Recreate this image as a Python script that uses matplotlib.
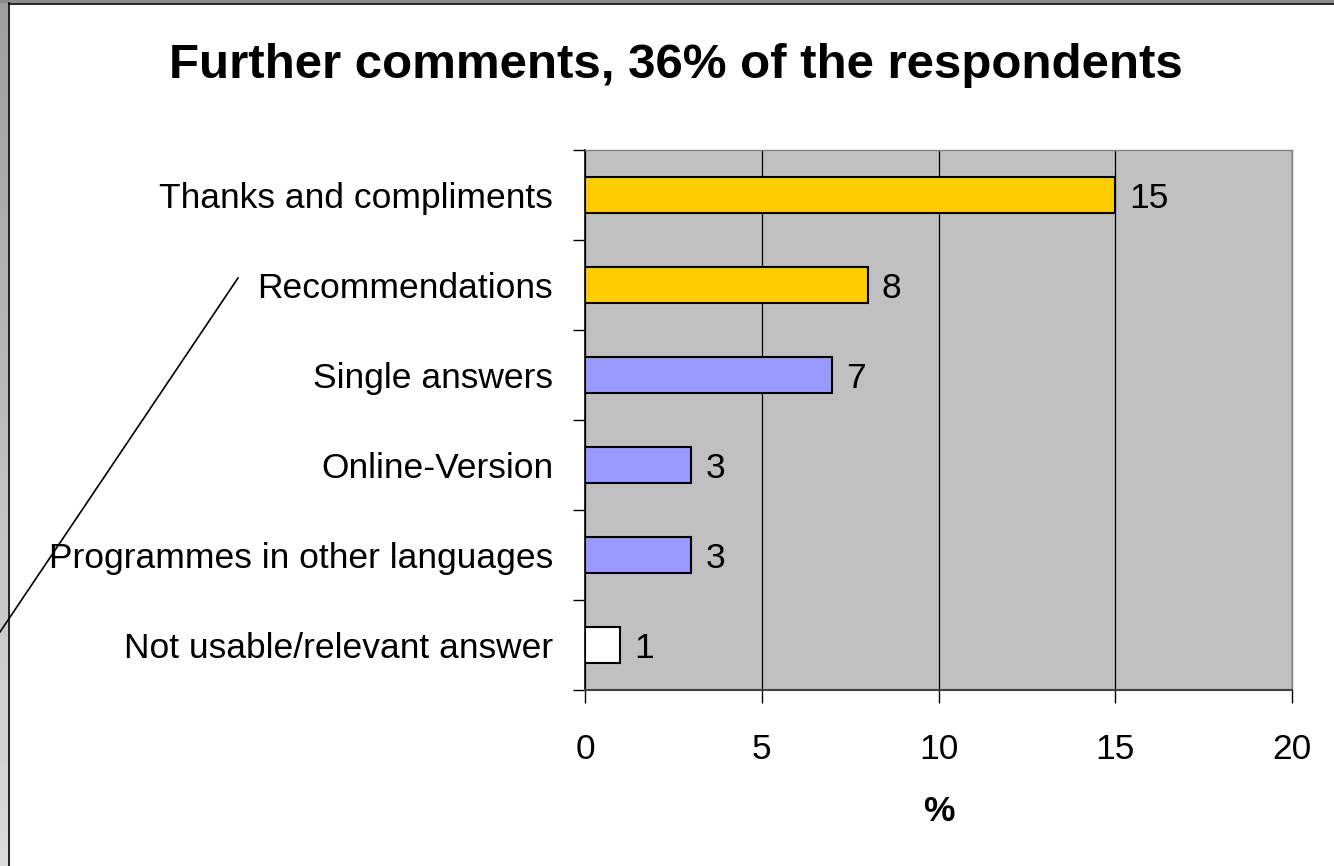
import matplotlib.pyplot as plt
import numpy as np
from matplotlib.lines import Line2D

plt.rcParams['font.family'] = ['Liberation Sans', 'DejaVu Sans']

categories = ["Thanks and compliments", "Recommendations", "Single answers",
              "Online-Version", "Programmes in other languages",
              "Not usable/relevant answer"]
values = [15, 8, 7, 3, 3, 1]
colors = ["#FFCC00", "#FFCC00", "#9999FF", "#9999FF", "#9999FF", "#FFFFFF"]
xticks = [0, 5, 10, 15, 20]

W, H = 1334, 866
fig = plt.figure(figsize=(W / 100, H / 100), dpi=100)
fig.patch.set_facecolor("white")

# grey bevel on the left and top edges of the frame
left = fig.add_axes([0, 0, 8 / W, 1])
left.imshow(np.linspace(0.62, 0.86, 100).reshape(-1, 1), cmap="gray",
            vmin=0, vmax=1, aspect="auto", extent=[0, 1, 0, 1], origin="upper")
left.axis("off")
top = fig.add_axes([0, 1 - 3 / H, 1, 3 / H])
top.imshow(np.full((1, 10), 0.55), cmap="gray", vmin=0, vmax=1,
           aspect="auto")
top.axis("off")
fig.add_artist(Line2D([8.5 / W, 8.5 / W], [0, 1 - 3 / H], color="black",
                      lw=1.2, transform=fig.transFigure))
fig.add_artist(Line2D([8.5 / W, 1], [1 - 3.5 / H, 1 - 3.5 / H], color="black",
                      lw=1.2, transform=fig.transFigure))
# stray connector line
fig.add_artist(Line2D([0, 238 / W], [1 - 632 / H, 1 - 278 / H], color="black",
                      lw=1.2, transform=fig.transFigure))

ax = fig.add_axes([585 / W, 1 - 690 / H, (1292 - 585) / W, (690 - 150) / H])
ax.set_facecolor("#C0C0C0")

y = np.arange(len(categories))
ax.barh(y, values, height=0.4, color=colors, edgecolor="black", lw=1.5,
        zorder=3)
for yi, v in zip(y, values):
    ax.text(v + 0.4, yi, str(v), va="center_baseline", ha="left",
            fontsize=25.5, zorder=4)

ax.set_xlim(0, 20)
ax.set_ylim(len(categories) - 0.5, -0.5)
ax.set_xticks(xticks)
ax.set_xticklabels([str(t) for t in xticks], fontsize=25.5)
ax.tick_params(axis="x", direction="out", length=9, width=1, pad=22)
ax.xaxis.grid(True, color="black", lw=0.9, zorder=1)

ax.set_yticks(np.arange(len(categories) + 1) - 0.5)
ax.set_yticklabels([])
ax.set_yticks(y, minor=True)
ax.set_yticklabels(categories, minor=True, fontsize=25.5)
ax.tick_params(axis="y", which="major", direction="out", length=9, width=1)
ax.tick_params(axis="y", which="minor", length=0, pad=23)

for s in ["top", "right"]:
    ax.spines[s].set_color("#808080")
    ax.spines[s].set_linewidth(1)
ax.spines["left"].set_color("black")
ax.spines["bottom"].set_color("#404040")
ax.spines["left"].set_linewidth(1.2)
ax.spines["bottom"].set_linewidth(1.5)

ax.set_xlabel("%", fontsize=25.5, fontweight="bold", labelpad=21)
fig.text(676 / W, 1 - 65 / H, "Further comments, 36% of the respondents",
         ha="center", va="center", fontsize=35.5, fontweight="bold")

fig.savefig("out.png", dpi=100)
